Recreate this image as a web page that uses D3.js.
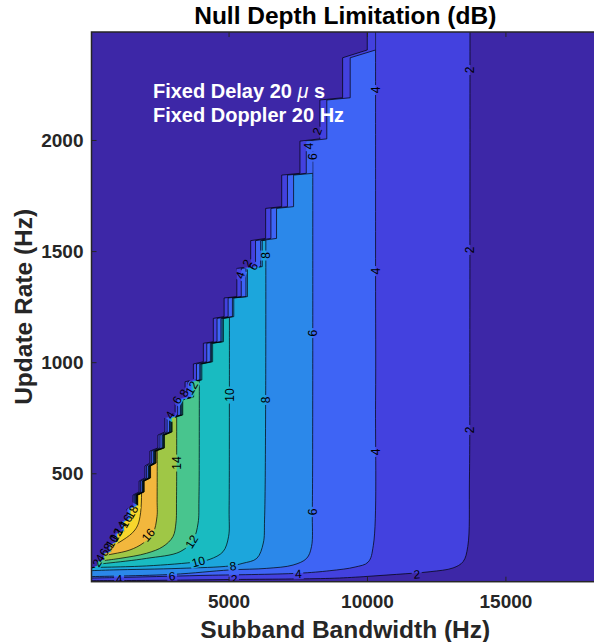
<!DOCTYPE html>
<html>
<head>
<meta charset="utf-8">
<script src="https://cdn.jsdelivr.net/npm/d3@7"></script>
<style>
  body { margin: 0; background: #fff; }
  text { font-family: "Liberation Sans", Arial, Helvetica, sans-serif; }
</style>
</head>
<body>
<script>
// contour levels (dB) and the fill colour of each band (below 2, 2-4, ... 18+)
var levels = [2, 4, 6, 8, 10, 12, 14, 16, 18];
var bandColors = ["#3d27a7", "#4341df", "#3e64f5", "#2b88ea", "#1ca6dc",
                  "#19bbc1", "#48c58e", "#9fc746", "#f2b73d", "#f8d62c"];

// each contour line: bandwidth (Hz) vs update rate (Hz)
var c2Bw   = [13720, 13715, 13700, 13640, 13470, 13110, 12280, 11070, 9860, 8660, 5230, 2160, 0];
var c2Rate = [2600, 1200, 470, 170, 102, 74, 57, 45, 34.5, 27, 22, 18, 16.5];
var c4Bw   = [10310, 10310, 10310, 10230, 10040, 9570, 8660, 7510, 3970, 1040, 0];
var c4Rate = [2600, 1400, 829, 176, 100, 78, 61.5, 50, 40, 31, 28.5];
var c6Bw   = [8040, 8040, 8025, 7996, 7820, 7330, 6380, 5050, 2990, 0];
var c6Rate = [2600, 829, 327, 170, 117, 87, 72, 65, 45, 35];
var c8Bw   = [6340, 6340, 6300, 6255, 6020, 5520, 5050, 3250, 830, 0];
var c8Rate = [2600, 829, 290, 186, 117, 95, 83, 72, 65, 61.5];
var c10Bw   = [5030, 5030, 5020, 5000, 4800, 4330, 3900, 2040, 0];
var c10Rate = [2600, 829, 335, 214.5, 147, 113, 102, 83, 76];
var c12Bw   = [3944, 3944, 3930, 3900, 3720, 3250, 2040, 600, 0];
var c12Rate = [2600, 829, 380, 276, 200, 147, 117, 95, 87];
var c14Bw   = [3127, 3127, 3120, 3100, 2990, 2630, 2040, 1080, 0];
var c14Rate = [2600, 829, 380, 276, 214.5, 170, 140, 117, 100];
var c16Bw   = [2427, 2427, 2420, 2415, 2270, 1910, 1440, 827, 0];
var c16Rate = [2600, 829, 380, 304.5, 230, 185, 155, 137, 121];
var c18Bw   = [1802, 1802, 1802, 1620, 1190, 720, 0];
var c18Rate = [2600, 829, 304.5, 245, 200, 170, 146];

// staircase edge of the valid region (upper left is below 2 dB)
var stairBw = [10010, 10010, 9120, 9120, 8300, 8300, 7580, 7580, 6920, 6920, 6340, 6340,
               5800, 5800, 5300, 5300, 4840, 4840, 4450, 4450, 4090, 4090, 3730, 3730,
               3430, 3430, 3070, 3070, 2700, 2700, 2450, 2450, 2160, 2160, 1980, 1980,
               1770, 1770, 1550, 1550, 1330, 1330, 1120, 1120, 900, 900, 680, 680,
               470, 470, 250, 250, 50];
var stairRate = [2600, 2405, 2370, 2190, 2180, 2005, 1995, 1850, 1842, 1700, 1692, 1557,
                 1547, 1430, 1422, 1295, 1289, 1205, 1197, 1092, 1085, 1002, 992, 920,
                 912, 843, 830, 762, 749, 686, 672, 614, 600, 546, 533, 479,
                 465, 416, 402, 353, 339, 294, 281, 240, 227, 191, 177, 146,
                 137, 110, 101, 83, 74];

// contour labels
var labelText  = ["2", "2", "2", "4", "4", "4", "6", "6", "8", "8", "10", "14",
                  "12", "16", "10", "8", "6", "4", "2", "4", "2",
                  "2", "4", "6", "4", "2", "6", "4", "6", "8", "12",
                  "2", "4", "6", "8", "10", "12", "14", "16", "18"];
var labelBw    = [13720, 13720, 13720, 10310, 10310, 10310, 8040, 8030, 6340, 6340, 5030, 3127,
                  3670, 2100, 3910, 5160, 2960, 1050, 5200, 7520, 11800,
                  8200, 7900, 8060, 5420, 5670, 5890, 2885, 3140, 3390, 3670,
                  249, 357, 501, 646, 790, 935, 1080, 1296, 1512];
var labelRate  = [2315, 1505, 695, 2225, 1410, 596, 1131, 326, 830, 1480, 852, 546,
                  192, 222, 102, 82, 37, 24, 23, 47, 45,
                  2040, 1972, 1925, 1392, 1445, 1432, 762, 830, 861, 884,
                  96, 118, 145, 168, 195, 222, 253, 285, 326];
var labelAngle = [-90, -90, -90, -90, -90, -90, -90, -90, -90, -90, -90, -90,
                  -58, -50, -15, -8, -4, -3, -2, -4, -4,
                  -70, -90, -90, -70, -60, -60, -60, -60, -60, -60,
                  -60, -60, -60, -60, -60, -60, -60, -60, -60];

var xTicks = [5000, 10000, 15000];
var yTicks = [500, 1000, 1500, 2000];

var contourBw = [c2Bw, c4Bw, c6Bw, c8Bw, c10Bw, c12Bw, c14Bw, c16Bw, c18Bw];
var contourRate = [c2Rate, c4Rate, c6Rate, c8Rate, c10Rate, c12Rate, c14Rate, c16Rate, c18Rate];

// each level's step edge sits a little to the right of the outer one
var stairShift = [0, 0.03, 0.062, 0.072, 0.082, 0.09, 0.097, 0.103, 0.11];

var plotL = 91.5, plotT = 32, plotR = 599, plotB = 581.7;

var svg = d3.select("body").append("svg").attr("width", 594).attr("height", 642);
var defs = svg.append("defs");

var sx = d3.scaleLinear().domain([50, 18380]).range([plotL, plotR]);
var sy = d3.scaleLinear().domain([12, 2486]).range([plotB, plotT]);

defs.append("clipPath").attr("id", "plotClip")
    .append("rect")
    .attr("x", plotL).attr("y", plotT)
    .attr("width", plotR - plotL).attr("height", plotB - plotT);

var smooth = d3.line()
    .x(function(d) { return sx(d[0]); })
    .y(function(d) { return sy(d[1]); })
    .curve(d3.curveCatmullRom.alpha(0.5));
var straight = d3.line()
    .x(function(d) { return sx(d[0]); })
    .y(function(d) { return sy(d[1]); });

var regionD = [], stairPts = [], contourPts = [];
levels.forEach(function(lv, i) {
    contourPts[i] = d3.zip(contourBw[i], contourRate[i]);
    stairPts[i] = d3.zip(stairBw.map(function(b) { return b * (1 + stairShift[i]); }), stairRate);
    regionD[i] = smooth(contourPts[i]) + "L" + sx(-500) + "," + sy(2600) + "Z";

    var clip = stairPts[i].concat([[-500, 74], [-500, -100], [30000, -100], [30000, 2600]]);
    defs.append("clipPath").attr("id", "stair" + i)
        .append("path").attr("d", straight(clip) + "Z");
    defs.append("clipPath").attr("id", "region" + i)
        .append("path").attr("d", regionD[i]);
});

// gaps in the lines under the labels
var mask = defs.append("mask").attr("id", "labelMask")
    .attr("maskUnits", "userSpaceOnUse")
    .attr("x", 0).attr("y", 0).attr("width", 594).attr("height", 642);
mask.append("rect").attr("width", 594).attr("height", 642).attr("fill", "#fff");
labelText.forEach(function(t, i) {
    var w = 7 * t.length + 3;
    mask.append("rect")
        .attr("x", -w / 2).attr("y", -5.5)
        .attr("width", w).attr("height", 11)
        .attr("fill", "#000")
        .attr("transform", "translate(" + sx(labelBw[i]) + "," + sy(labelRate[i]) + ") rotate(" + labelAngle[i] + ")");
});

var g = svg.append("g").attr("clip-path", "url(#plotClip)");

g.append("rect")
    .attr("x", plotL).attr("y", plotT)
    .attr("width", plotR - plotL).attr("height", plotB - plotT)
    .attr("fill", bandColors[0]);

levels.forEach(function(lv, i) {
    g.append("path")
        .attr("d", regionD[i])
        .attr("fill", bandColors[i + 1])
        .attr("clip-path", "url(#stair" + i + ")");
});

var lg = g.append("g").attr("mask", "url(#labelMask)")
    .attr("fill", "none").attr("stroke", "#000").attr("stroke-width", 0.7);
levels.forEach(function(lv, i) {
    lg.append("path")
        .attr("d", smooth(contourPts[i]))
        .attr("clip-path", "url(#stair" + i + ")");
    lg.append("path")
        .attr("d", straight(stairPts[i]))
        .attr("clip-path", "url(#region" + i + ")");
});

g.selectAll(".clabel")
    .data(labelText)
    .enter()
    .append("text")
    .attr("class", "clabel")
    .attr("transform", function(d, i) {
        return "translate(" + sx(labelBw[i]) + "," + sy(labelRate[i]) + ") rotate(" + labelAngle[i] + ")";
    })
    .attr("text-anchor", "middle")
    .attr("dy", "0.35em")
    .attr("font-size", 12)
    .attr("fill", "#000")
    .text(function(d) { return d; });

// annotation
var note = svg.append("g").attr("fill", "#fff").attr("font-weight", "bold").attr("font-size", 20);
var t1 = note.append("text").attr("x", sx(2270)).attr("y", sy(2190));
t1.append("tspan").text("Fixed Delay 20 ");
t1.append("tspan").attr("font-style", "italic").attr("font-weight", "normal").text("\u03bc");
t1.append("tspan").text(" s");
note.append("text").attr("x", sx(2270)).attr("y", sy(2190) + 24.2).text("Fixed Doppler 20 Hz");

// axes
function styleAxis(ax) {
    ax.select(".domain").remove();
    ax.attr("font-size", 19).attr("font-weight", "bold")
      .attr("font-family", "'Liberation Sans', Arial, Helvetica, sans-serif");
    ax.selectAll(".tick line").attr("stroke", "#262626").attr("stroke-width", 1);
    ax.selectAll(".tick text").attr("fill", "#262626");
}

var gx = svg.append("g")
    .attr("transform", "translate(0," + plotB + ")")
    .call(d3.axisBottom(sx).tickValues(xTicks).tickSize(-5).tickPadding(13).tickFormat(d3.format("d")));
styleAxis(gx);

var gxt = svg.append("g")
    .attr("transform", "translate(0," + plotT + ")")
    .call(d3.axisTop(sx).tickValues(xTicks).tickSize(-5).tickFormat(""));
styleAxis(gxt);

var gy = svg.append("g")
    .attr("transform", "translate(" + plotL + ",0)")
    .call(d3.axisLeft(sy).tickValues(yTicks).tickSize(-5).tickPadding(8).tickFormat(d3.format("d")));
styleAxis(gy);

svg.append("rect")
    .attr("x", plotL).attr("y", plotT)
    .attr("width", plotR - plotL).attr("height", plotB - plotT)
    .attr("fill", "none").attr("stroke", "#262626").attr("stroke-width", 1.5);

// titles
svg.append("text")
    .attr("x", (plotL + plotR) / 2).attr("y", 24)
    .attr("text-anchor", "middle")
    .attr("font-size", 24.5).attr("font-weight", "bold").attr("fill", "#000")
    .text("Null Depth Limitation (dB)");

svg.append("text")
    .attr("x", (plotL + plotR) / 2).attr("y", 637.5)
    .attr("text-anchor", "middle")
    .attr("font-size", 24.5).attr("font-weight", "bold").attr("fill", "#262626")
    .text("Subband Bandwidth (Hz)");

svg.append("text")
    .attr("transform", "translate(31.7," + ((plotT + plotB) / 2) + ") rotate(-90)")
    .attr("text-anchor", "middle")
    .attr("font-size", 24.5).attr("font-weight", "bold").attr("fill", "#262626")
    .text("Update Rate (Hz)");
</script>
</body>
</html>
